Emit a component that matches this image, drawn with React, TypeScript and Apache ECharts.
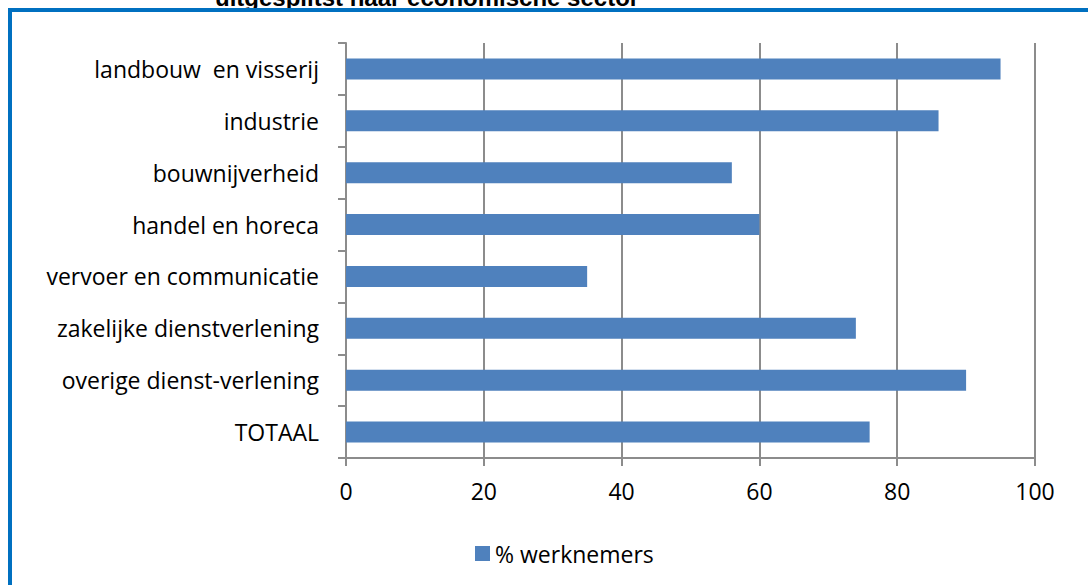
import React, { useEffect, useRef } from "react";
import * as echarts from "echarts";

const categories = [
  "landbouw  en visserij",
  "industrie",
  "bouwnijverheid",
  "handel en horeca",
  "vervoer en communicatie",
  "zakelijke dienstverlening",
  "overige dienst-verlening",
  "TOTAAL",
];
const values = [95, 86, 56, 60, 35, 74, 90, 76];
const seriesName = "% werknemers";
const titleText = "uitgesplitst naar economische sector";

export default function App() {
  const ref = useRef<HTMLDivElement>(null);
  useEffect(() => {
    if (!ref.current) return;
    const chart = echarts.init(ref.current, null, { renderer: "svg" });
    const font = "'Open Sans', 'Noto Sans', sans-serif";
    chart.setOption({
      animation: false,
      backgroundColor: "#ffffff",
      grid: { left: 346, right: 53, top: 43, bottom: 127, containLabel: false },
      xAxis: {
        type: "value",
        min: 0,
        max: 100,
        interval: 20,
        axisLine: { show: true, lineStyle: { color: "#8c8c8c", width: 2 } },
        axisTick: { show: true, length: 8, lineStyle: { color: "#8c8c8c", width: 2 } },
        splitLine: { show: true, lineStyle: { color: "#8c8c8c", width: 2 } },
        axisLabel: { color: "#000", fontSize: 23, fontFamily: font, margin: 21 },
      },
      yAxis: {
        type: "category",
        data: categories,
        inverse: true,
        axisLine: { show: true, lineStyle: { color: "#8c8c8c", width: 2 } },
        axisTick: { show: true, length: 8, alignWithLabel: false, lineStyle: { color: "#8c8c8c", width: 2 } },
        axisLabel: { color: "#000", fontSize: 23, fontFamily: font, margin: 27 },
      },
      legend: {
        show: true,
        left: 470,
        top: 537,
        icon: "rect",
        itemWidth: 15,
        itemHeight: 15,
        itemGap: 6,
        textStyle: { color: "#000", fontSize: 23, fontFamily: font },
        data: [seriesName],
      },
      series: [
        {
          name: seriesName,
          type: "bar",
          data: values,
          barWidth: 21,
          itemStyle: { color: "#4f81bd" },
        },
      ],
      graphic: [
        {
          type: "text",
          z: 10,
          style: {
            x: 215,
            y: -3,
            text: titleText,
            fontSize: 24,
            fontWeight: "bold",
            fontFamily: "'Liberation Sans', Arial, sans-serif",
            fill: "#000",
            verticalAlign: "middle",
          },
        },
        {
          type: "rect",
          z: 20,
          shape: { x: 10, y: 10, width: 1100, height: 600 },
          style: { fill: "none", stroke: "#0070c0", lineWidth: 4 },
        },
      ],
    });
    return () => chart.dispose();
  }, []);
  return (
    <div
      ref={ref}
      style={{ position: "absolute", left: 0, top: 0, width: 1088, height: 585 }}
    />
  );
}
